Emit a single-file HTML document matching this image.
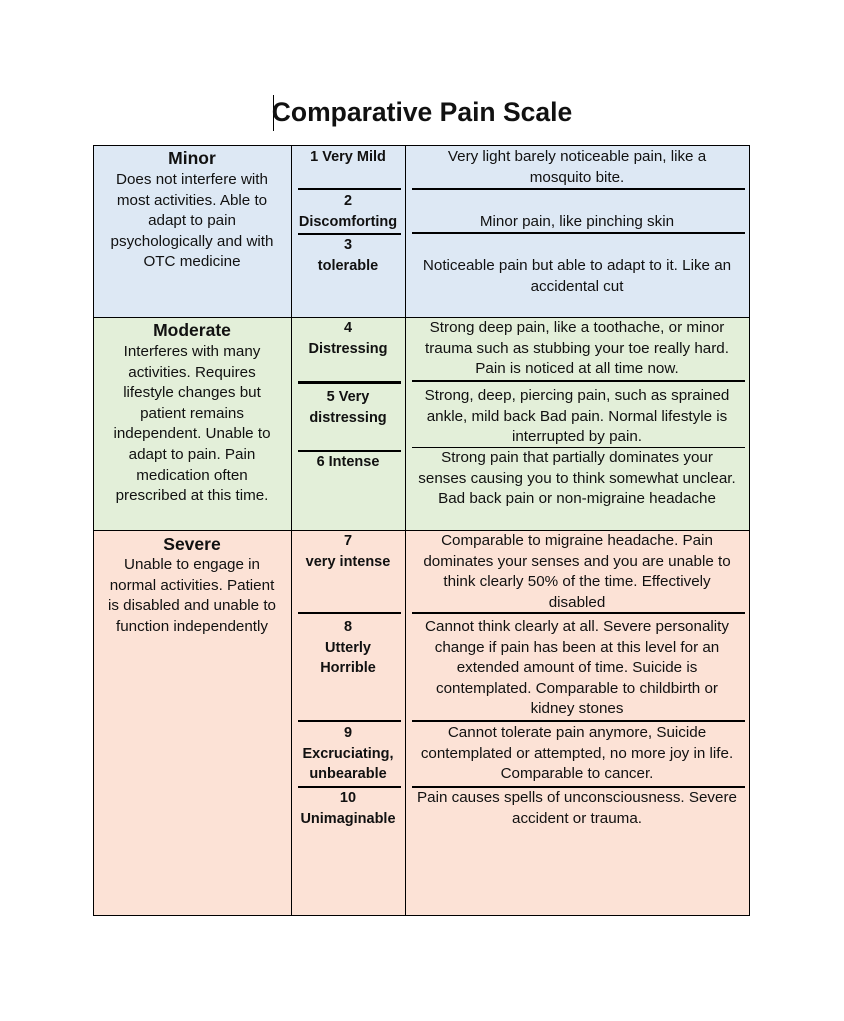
<!DOCTYPE html>
<html><head><meta charset="utf-8"><style>
body{margin:0;width:844px;height:1021px;background:#fff;position:relative;font-family:"Liberation Sans",sans-serif;color:#111;overflow:hidden}
.a{position:absolute}
.t{position:absolute;text-align:center;font-size:15.2px;line-height:20.6px;white-space:nowrap;margin-top:1px}
.b{font-weight:bold;font-size:14.5px}
.h{font-weight:bold;font-size:17.5px}
.c1{left:93px;width:198px}
.c2{left:291px;width:114px}
.c3{left:405px;width:344px}
.l{position:absolute;background:#000}
</style></head><body>
<div class="a" style="left:273px;top:95px;width:1px;height:36px;background:#000"></div>
<div class="a" style="left:0;width:844px;top:95px;text-align:center;font-weight:bold;font-size:26.5px;line-height:34px">Comparative Pain Scale</div>

<div class="a" style="left:93px;top:145px;width:656px;height:172px;background:#dde8f4"></div>
<div class="a" style="left:93px;top:317px;width:656px;height:213px;background:#e3efd9"></div>
<div class="a" style="left:93px;top:530px;width:656px;height:385px;background:#fce2d6"></div>
<div class="l" style="left:93px;top:145px;width:657px;height:1px"></div>
<div class="l" style="left:93px;top:317px;width:657px;height:1px"></div>
<div class="l" style="left:93px;top:530px;width:657px;height:1px"></div>
<div class="l" style="left:93px;top:915px;width:657px;height:1px"></div>
<div class="l" style="left:93px;top:145px;width:1px;height:771px"></div>
<div class="l" style="left:291px;top:145px;width:1px;height:771px"></div>
<div class="l" style="left:405px;top:145px;width:1px;height:771px"></div>
<div class="l" style="left:749px;top:145px;width:1px;height:771px"></div>
<div class="l" style="left:298px;top:188px;width:103px;height:2px"></div>
<div class="l" style="left:412px;top:188px;width:333px;height:2px"></div>
<div class="l" style="left:298px;top:233px;width:103px;height:2px"></div>
<div class="l" style="left:412px;top:232px;width:333px;height:2px"></div>
<div class="l" style="left:298px;top:381px;width:103px;height:3px"></div>
<div class="l" style="left:412px;top:380px;width:333px;height:2px"></div>
<div class="l" style="left:298px;top:450px;width:103px;height:2px"></div>
<div class="l" style="left:412px;top:447px;width:333px;height:1px"></div>
<div class="l" style="left:298px;top:612px;width:103px;height:2px"></div>
<div class="l" style="left:412px;top:612px;width:333px;height:2px"></div>
<div class="l" style="left:298px;top:720px;width:103px;height:2px"></div>
<div class="l" style="left:412px;top:720px;width:333px;height:2px"></div>
<div class="l" style="left:298px;top:786px;width:103px;height:2px"></div>
<div class="l" style="left:412px;top:786px;width:333px;height:2px"></div>

<div class="t c1 h" style="top:147px">Minor</div>
<div class="t c1" style="top:169px">Does not interfere with<br>most activities. Able to<br>adapt to pain<br>psychologically and with<br>OTC medicine</div>
<div class="t c2 b" style="top:146px">1 Very Mild</div>
<div class="t c2 b" style="top:190px">2<br>Discomforting</div>
<div class="t c2 b" style="top:234px">3<br>tolerable</div>
<div class="t c3" style="top:146px">Very light barely noticeable pain, like a<br>mosquito bite.</div>
<div class="t c3" style="top:211px">Minor pain, like pinching skin</div>
<div class="t c3" style="top:255px">Noticeable pain but able to adapt to it. Like an<br>accidental cut</div>

<div class="t c1 h" style="top:319px">Moderate</div>
<div class="t c1" style="top:341px">Interferes with many<br>activities. Requires<br>lifestyle changes but<br>patient remains<br>independent. Unable to<br>adapt to pain. Pain<br>medication often<br>prescribed at this time.</div>
<div class="t c2 b" style="top:317px">4<br>Distressing</div>
<div class="t c2 b" style="top:386px">5 Very<br>distressing</div>
<div class="t c2 b" style="top:451px">6 Intense</div>
<div class="t c3" style="top:317px">Strong deep pain, like a toothache, or minor<br>trauma such as stubbing your toe really hard.<br>Pain is noticed at all time now.</div>
<div class="t c3" style="top:385px">Strong, deep, piercing pain, such as sprained<br>ankle, mild back Bad pain. Normal lifestyle is<br>interrupted by pain.</div>
<div class="t c3" style="top:447px">Strong pain that partially dominates your<br>senses causing you to think somewhat unclear.<br>Bad back pain or non-migraine headache</div>

<div class="t c1 h" style="top:533px">Severe</div>
<div class="t c1" style="top:554px">Unable to engage in<br>normal activities. Patient<br>is disabled and unable to<br>function independently</div>
<div class="t c2 b" style="top:530px">7<br>very intense</div>
<div class="t c2 b" style="top:616px">8<br>Utterly<br>Horrible</div>
<div class="t c2 b" style="top:722px">9<br>Excruciating,<br>unbearable</div>
<div class="t c2 b" style="top:787px">10<br>Unimaginable</div>
<div class="t c3" style="top:530px">Comparable to migraine headache. Pain<br>dominates your senses and you are unable to<br>think clearly 50% of the time. Effectively<br>disabled</div>
<div class="t c3" style="top:616px">Cannot think clearly at all. Severe personality<br>change if pain has been at this level for an<br>extended amount of time. Suicide is<br>contemplated. Comparable to childbirth or<br>kidney stones</div>
<div class="t c3" style="top:722px">Cannot tolerate pain anymore, Suicide<br>contemplated or attempted, no more joy in life.<br>Comparable to cancer.</div>
<div class="t c3" style="top:787px">Pain causes spells of unconsciousness. Severe<br>accident or trauma.</div>
</body></html>
